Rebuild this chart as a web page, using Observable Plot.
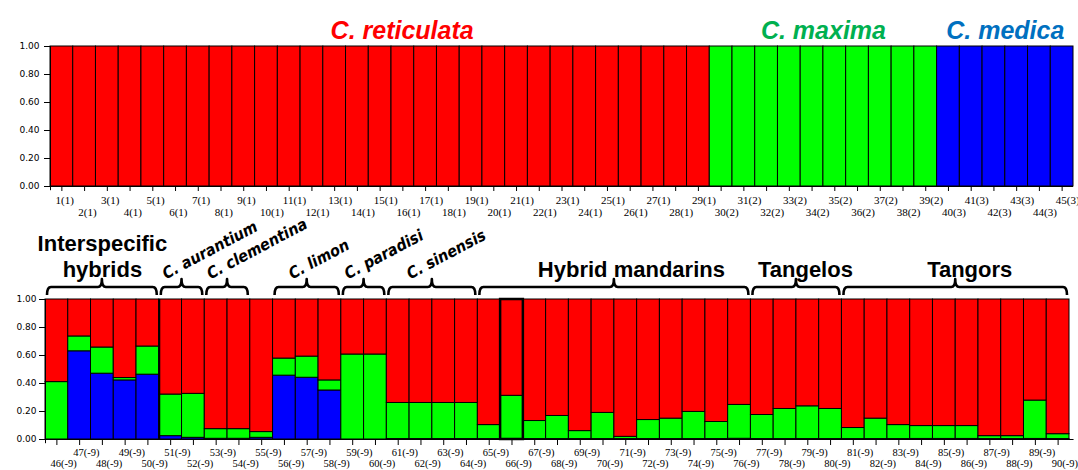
<!DOCTYPE html>
<html><head><meta charset="utf-8">
<script src="https://cdn.jsdelivr.net/npm/d3@7"></script>
<script src="https://cdn.jsdelivr.net/npm/@observablehq/plot@0.6"></script>
<style>
body{margin:0;background:#fff;}
#wrap{position:relative;width:1078px;height:470px;overflow:hidden;background:#fff;}
#top,#bottom{position:absolute;left:0;}
#top{top:0;} #bottom{top:220px;}
svg{overflow:visible;}
</style></head><body><div id="wrap"><div id="top"></div><div id="bottom"></div></div>
<script>
// ---------- DATA ----------
const topSamples = [1,2,3,4,5,6,7,8,9,10,11,12,13,14,15,16,17,18,19,20,21,22,23,24,25,26,27,28,29,30,31,32,33,34,35,36,37,38,39,40,41,42,43,44,45];
const topPop = [1,1,1,1,1,1,1,1,1,1,1,1,1,1,1,1,1,1,1,1,1,1,1,1,1,1,1,1,1,2,2,2,2,2,2,2,2,2,2,3,3,3,3,3,3];
const topGroupNames = ["C. reticulata","C. maxima","C. medica"];
const topGroupFirst = [1,30,40];
const topGroupLast = [29,39,45];

const bottomSamples = [46,47,48,49,50,51,52,53,54,55,56,57,58,59,60,61,62,63,64,65,66,67,68,69,70,71,72,73,74,75,76,77,78,79,80,81,82,83,84,85,86,87,88,89,90];
const bottomPop = "-9";
const blueQ = [0,0.63,0.47,0.422,0.463,0.024,0.012,0.005,0.005,0.012,0.456,0.441,0.35,0,0,0.003,0.003,0.003,0.003,0.003,0.003,0.003,0.003,0.003,0.003,0.003,0.003,0.003,0.003,0.003,0.005,0.003,0.003,0.003,0.003,0.003,0.003,0.003,0.004,0.004,0.004,0.003,0.003,0.004,0.003];
const greenQ = [0.41,0.106,0.187,0.017,0.201,0.297,0.314,0.069,0.069,0.041,0.122,0.151,0.072,0.607,0.607,0.258,0.258,0.258,0.258,0.1,0.309,0.129,0.165,0.057,0.187,0.016,0.136,0.146,0.194,0.122,0.242,0.172,0.215,0.234,0.215,0.079,0.146,0.1,0.092,0.092,0.092,0.021,0.021,0.274,0.035];
const highlighted = [66];

const groupNames = ["Interspecific\nhybrids","C. aurantium","C. clementina","C. limon","C. paradisi","C. sinensis","Hybrid mandarins","Tangelos","Tangors"];
const groupFirst = [46,51,53,56,59,61,65,77,81];
const groupLast  = [50,52,54,58,60,64,76,80,90];

const yTicks = [0,0.2,0.4,0.6,0.8,1];

// ---------- STYLE ----------
const RED = "#ff0000", GREEN = "#00ff00", BLUE = "#0000ff";
const popColor = {1: RED, 2: GREEN, 3: BLUE};
const titleColor = ["#ff0000", "#00b050", "#0070c0"];
const titleDx = [22, 0, 0];
const rotatedGroup = [false,true,true,true,true,true,false,false,false];
const labelDx = [0,-16,-17,-15,-16,-22,17,9,14];
const fmt = d3.format(".2f");
const axisFont = {fontFamily: "DejaVu Sans", fontSize: 9};

// ---------- TOP PANEL ----------
const topRows = topSamples.map((s, i) => ({s, y1: 0, y2: 1, c: popColor[topPop[i]], lab: `${s}(${topPop[i]})`}));
const topGroups = topGroupNames.map((n, i) => ({n, mid: (topGroupFirst[i] + topGroupLast[i]) / 2, i}));

const topPlot = Plot.plot({
  width: 1078, height: 220,
  marginLeft: 50, marginRight: 5, marginTop: 46, marginBottom: 34,
  style: {fontFamily: "DejaVu Sans", fontSize: "9px", background: "white", overflow: "visible"},
  x: {domain: [0.5, 45.5], label: null},
  y: {domain: [0, 1], label: null},
  color: {type: "identity"},
  marks: [
    Plot.rect(topRows, {x1: d => d.s - 0.5, x2: d => d.s + 0.5, y1: "y1", y2: "y2", fill: "c", stroke: "#000", strokeWidth: 1}),
    Plot.ruleY([0], {x1: 0.5, x2: 45.5, stroke: "#000"}),
    Plot.ruleX([0.5], {y1: -0.03, y2: 1, stroke: "#000"}),
    Plot.axisY({ticks: yTicks, tickFormat: fmt, tickSize: 6, tickPadding: 5, label: null, ...axisFont}),
    Plot.axisX({ticks: topSamples, tickSize: 5, tickFormat: () => "", label: null}),
    Plot.text(topRows.filter(d => d.s % 2 === 1), {x: d => d.s - 0.5, y: 0, text: "lab", textAnchor: "start", lineAnchor: "top", dx: 5, dy: 10, fontFamily: "Liberation Serif", fontSize: 11, fill: "#000"}),
    Plot.text(topRows.filter(d => d.s % 2 === 0), {x: d => d.s - 0.5, y: 0, text: "lab", textAnchor: "start", lineAnchor: "top", dx: 5, dy: 22, fontFamily: "Liberation Serif", fontSize: 11, fill: "#000"}),
    ...topGroups.map(g => Plot.text([g], {x: "mid", y: 1, text: "n", dx: titleDx[g.i], dy: -8, lineAnchor: "bottom", textAnchor: "middle",
      fontFamily: "Liberation Sans", fontWeight: "bold", fontStyle: "italic", fontSize: 25, fill: titleColor[g.i]}))
  ]
});
document.getElementById("top").append(topPlot);

// ---------- BOTTOM PANEL ----------
const bottomRows = [];
bottomSamples.forEach((s, i) => {
  const b = blueQ[i], g = greenQ[i];
  bottomRows.push({s, y1: 0, y2: b, c: BLUE});
  bottomRows.push({s, y1: b, y2: b + g, c: GREEN});
  bottomRows.push({s, y1: b + g, y2: 1, c: RED});
});
const bottomLabels = bottomSamples.map(s => ({s, lab: `${s}(${bottomPop})`}));
const groups = groupNames.map((n, i) => ({n, first: groupFirst[i], last: groupLast[i], mid: (groupFirst[i] + groupLast[i]) / 2, i}));

function brackets(index, scales, values, dimensions) {
  const g = d3.create("svg:g");
  const b = scales.y(1) - 12;
  for (const grp of groups) {
    const a = scales.x(grp.first - 0.5) + 2, c = scales.x(grp.last + 0.5) - 2, m = (a + c) / 2;
    g.append("path")
      .attr("d", `M${a},${b + 8}Q${a},${b} ${a + 4},${b}L${m - 4},${b}Q${m},${b} ${m},${b - 8}Q${m},${b} ${m + 4},${b}L${c - 4},${b}Q${c},${b} ${c},${b + 8}`)
      .attr("fill", "none").attr("stroke", "#000").attr("stroke-width", 2.6).attr("stroke-linejoin", "round");
  }
  return g.node();
}

const bottomPlot = Plot.plot({
  width: 1078, height: 250,
  marginLeft: 45, marginRight: 9, marginTop: 79, marginBottom: 31,
  style: {fontFamily: "DejaVu Sans", fontSize: "9px", background: "white", overflow: "visible"},
  x: {domain: [45.5, 90.5], label: null},
  y: {domain: [0, 1], label: null},
  color: {type: "identity"},
  marks: [
    Plot.rect(bottomRows, {x1: d => d.s - 0.5, x2: d => d.s + 0.5, y1: "y1", y2: "y2", fill: "c", stroke: "#000", strokeWidth: 1}),
    Plot.rect(highlighted, {x1: d => d - 0.5, x2: d => d + 0.5, y1: 0, y2: 1, fill: "none", stroke: "#000", strokeWidth: 2.5}),
    Plot.ruleX([50.5], {y1: 0, y2: 1, stroke: "#000", strokeWidth: 2}),
    Plot.ruleY([0], {x1: 45.5, x2: 90.7, stroke: "#000"}),
    Plot.ruleX([45.5], {y1: -0.03, y2: 1, stroke: "#000"}),
    Plot.axisY({ticks: yTicks, tickFormat: fmt, tickSize: 6, tickPadding: 3, label: null, ...axisFont}),
    Plot.axisX({ticks: bottomSamples, tickSize: 6, tickFormat: () => "", label: null}),
    Plot.text(bottomLabels.filter(d => d.s % 2 === 1), {x: d => d.s - 0.5, y: 0, text: "lab", textAnchor: "start", lineAnchor: "top", dx: 5, dy: 9, fontFamily: "Liberation Serif", fontSize: 10.5, fill: "#000"}),
    Plot.text(bottomLabels.filter(d => d.s % 2 === 0), {x: d => d.s - 0.5, y: 0, text: "lab", textAnchor: "start", lineAnchor: "top", dx: 5, dy: 20, fontFamily: "Liberation Serif", fontSize: 10.5, fill: "#000"}),
    brackets,
    ...groups.map(g => rotatedGroup[g.i]
      ? Plot.text([g], {x: "mid", y: 1, text: "n", dx: labelDx[g.i], dy: -20, rotate: -28, textAnchor: "start", lineAnchor: "bottom",
          fontFamily: "DejaVu Sans Condensed", fontWeight: "bold", fontStyle: "italic", fontSize: 16, fill: "#000"})
      : Plot.text([g], {x: "mid", y: 1, text: "n", dx: labelDx[g.i], dy: -23, textAnchor: "middle", lineAnchor: "bottom", lineHeight: 1.15,
          fontFamily: "Liberation Sans", fontWeight: "bold", fontSize: 22, fill: "#000"}))
  ]
});
document.getElementById("bottom").append(bottomPlot);
</script></body></html>
